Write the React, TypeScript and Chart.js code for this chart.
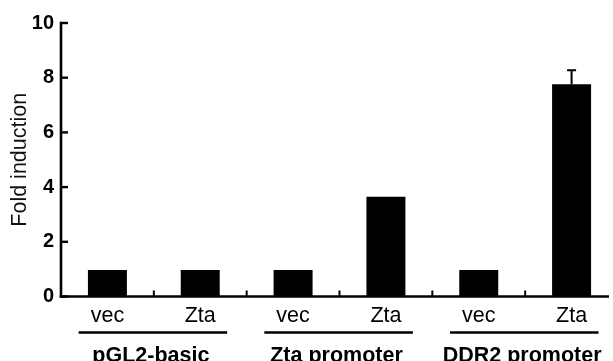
import React, { useEffect, useRef } from "react";
import { Chart, registerables } from "chart.js";

Chart.register(...registerables);

const categories = ["vec", "Zta", "vec", "Zta", "vec", "Zta"];
const foldInduction = [0.97, 0.97, 0.97, 3.65, 0.97, 7.76];
const errorUp = [0, 0, 0, 0, 0, 0.51];
const groups = ["pGL2-basic", "Zta promoter", "DDR2 promoter"];
const yTicks = [0, 2, 4, 6, 8, 10];
const yTitle = "Fold induction";

const FONT = "'Liberation Sans', Arial, Helvetica, sans-serif";

const axesPlugin = {
  id: "customAxes",
  afterDraw(chart: any) {
    const { ctx, chartArea } = chart;
    const x = chart.scales.x;
    const y = chart.scales.y;
    const x0 = chartArea.left;
    const yb = y.getPixelForValue(yTicks[0]);
    const yt = y.getPixelForValue(yTicks[yTicks.length - 1]);
    const w = x.getPixelForValue(1) - x.getPixelForValue(0);
    ctx.save();
    ctx.strokeStyle = "#000";
    ctx.fillStyle = "#000";
    ctx.lineCap = "butt";
    // y axis
    ctx.lineWidth = 2.6;
    ctx.beginPath();
    ctx.moveTo(x0, yt - 1.3);
    ctx.lineTo(x0, yb + 1.3);
    ctx.stroke();
    // x axis
    ctx.beginPath();
    ctx.moveTo(x0 - 1.3, yb);
    ctx.lineTo(chartArea.right - 9, yb);
    ctx.stroke();
    // y ticks (inward)
    ctx.lineWidth = 2.4;
    yTicks.forEach((v) => {
      const py = y.getPixelForValue(v);
      ctx.beginPath();
      ctx.moveTo(x0, py);
      ctx.lineTo(x0 + 7, py);
      ctx.stroke();
    });
    // x ticks at category boundaries (inward)
    ctx.lineWidth = 2;
    for (let i = 0; i < categories.length - 1; i++) {
      const px = x.getPixelForValue(i) + w / 2;
      ctx.beginPath();
      ctx.moveTo(px, yb);
      ctx.lineTo(px, yb - 6);
      ctx.stroke();
    }
    // error bars
    ctx.lineWidth = 2;
    foldInduction.forEach((v, i) => {
      if (!errorUp[i]) return;
      const px = x.getPixelForValue(i);
      const pTop = y.getPixelForValue(v + errorUp[i]);
      const pBar = y.getPixelForValue(v);
      ctx.beginPath();
      ctx.moveTo(px, pBar);
      ctx.lineTo(px, pTop);
      ctx.moveTo(px - 4.5, pTop);
      ctx.lineTo(px + 4.5, pTop);
      ctx.stroke();
    });
    // group lines and labels
    ctx.lineWidth = 2.5;
    ctx.font = `bold 21.5px ${FONT}`;
    ctx.textAlign = "center";
    ctx.textBaseline = "alphabetic";
    groups.forEach((g, gi) => {
      const c0 = x.getPixelForValue(gi * 2);
      const c1 = x.getPixelForValue(gi * 2 + 1);
      const ly = yb + 36;
      ctx.beginPath();
      ctx.moveTo(c0 - 0.31 * w, ly);
      ctx.lineTo(c1 + 0.29 * w, ly);
      ctx.stroke();
      ctx.fillText(g, (c0 + c1) / 2 - 3, yb + 65);
    });
    ctx.restore();
  },
};

export default function App() {
  const ref = useRef<HTMLCanvasElement>(null);
  useEffect(() => {
    if (!ref.current) return;
    const chart = new Chart(ref.current, {
      type: "bar",
      data: {
        labels: categories,
        datasets: [
          {
            data: foldInduction,
            backgroundColor: "#000",
            borderWidth: 0,
            barPercentage: 0.42,
            categoryPercentage: 1,
          },
        ],
      },
      options: {
        responsive: false,
        animation: false,
        devicePixelRatio: 1,
        layout: { padding: { left: 7, right: 8, top: 23, bottom: 0 } },
        plugins: { legend: { display: false }, tooltip: { enabled: false } },
        scales: {
          x: {
            grid: { display: false, drawTicks: false },
            border: { display: false },
            ticks: {
              color: "#000",
              font: { family: FONT, size: 21.5 },
              padding: 7,
              maxRotation: 0,
              autoSkip: false,
            },
            afterFit(s: any) {
              s.height = 64.5;
            },
          },
          y: {
            min: yTicks[0],
            max: yTicks[yTicks.length - 1],
            grid: { display: false, drawTicks: false },
            border: { display: false },
            ticks: {
              color: "#000",
              font: { family: FONT, size: 20, weight: "bold" },
              padding: 7,
            },
            afterBuildTicks(s: any) {
              s.ticks = yTicks.map((v) => ({ value: v }));
            },
            title: {
              display: true,
              text: yTitle,
              color: "#111",
              font: { family: FONT, size: 21.5 },
              padding: 0,
            },
            afterFit(s: any) {
              s.width = 54;
            },
          },
        },
      },
      plugins: [axesPlugin],
    } as any);
    return () => chart.destroy();
  }, []);
  return (
    <div
      style={{
        position: "fixed",
        left: 0,
        top: 0,
        width: 613,
        height: 361,
        overflow: "hidden",
        background: "#fff",
      }}
    >
      <canvas
        ref={ref}
        width={626}
        height={361}
        style={{ display: "block", width: 626, height: 361 }}
      />
    </div>
  );
}
